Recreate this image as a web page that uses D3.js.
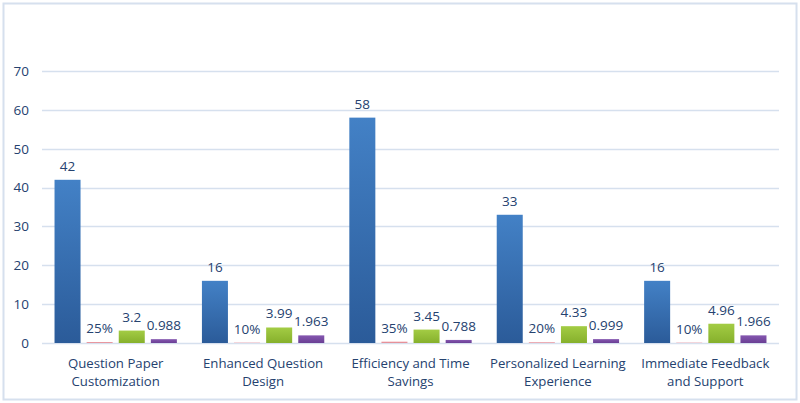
<!DOCTYPE html>
<html><head><meta charset="utf-8">
<script src="https://cdn.jsdelivr.net/npm/d3@7"></script>
<style>body{margin:0;background:#fff}svg{display:block}</style>
</head><body><svg id="c" width="800" height="403"></svg>
<script>
const categories = [["Question Paper","Customization"],["Enhanced Question","Design"],["Efficiency and Time","Savings"],["Personalized Learning","Experience"],["Immediate Feedback","and Support"]];
const countValues = [42,16,58,33,16];
const percentValues = [0.25,0.10,0.35,0.20,0.10];
const percentLabels = ["25%","10%","35%","20%","10%"];
const meanValues = [3.2,3.99,3.45,4.33,4.96];
const sdValues = [0.988,1.963,0.788,0.999,1.966];
const yTicks = [0,10,20,30,40,50,60,70];

const series = [
  {key:"count", values:countValues, labels:countValues.map(String), top:"#4381c6", bot:"#2b5b99"},
  {key:"pct", values:percentValues, labels:percentLabels, top:"#f0a0a8", bot:"#e08890"},
  {key:"mean", values:meanValues, labels:meanValues.map(String), top:"#a3cc44", bot:"#86b02c"},
  {key:"sd", values:sdValues, labels:sdValues.map(String), top:"#8557b0", bot:"#6a3f94"}
];

const svg = d3.select("#c");
const W=800,H=403;
const m={left:42,right:21,top:71,bottom:60};
const font="'Open Sans', 'Liberation Sans', Arial, sans-serif";
const fs=13.2;
const textColor="#25426f";

svg.append("rect").attr("x",3.5).attr("y",3.5).attr("width",W-7).attr("height",H-7)
  .attr("fill","#fff").attr("stroke","#d6e0ee").attr("stroke-width",2);

const y=d3.scaleLinear().domain([0,70]).range([H-m.bottom,m.top]);
const x0=d3.scaleBand().domain(d3.range(categories.length)).range([m.left,W-m.right]).paddingInner(0.17).paddingOuter(0.085);
const x1=d3.scaleBand().domain(series.map(s=>s.key)).range([0,x0.bandwidth()]).paddingInner(0.19);

const defs=svg.append("defs");
series.forEach(s=>{
  const g=defs.append("linearGradient").attr("id","g_"+s.key).attr("x1",0).attr("x2",0).attr("y1",0).attr("y2",1);
  g.append("stop").attr("offset","0%").attr("stop-color",s.top);
  g.append("stop").attr("offset","100%").attr("stop-color",s.bot);
});

// gridlines
svg.append("g").selectAll("line").data(yTicks).join("line")
  .attr("x1",m.left).attr("x2",W-m.right)
  .attr("y1",d=>Math.round(y(d))+0.5).attr("y2",d=>Math.round(y(d))+0.5)
  .attr("stroke","#d6e0ee").attr("stroke-width",1.5);

// y axis labels
const yAxis=svg.append("g").attr("transform",`translate(${m.left},0)`)
  .call(d3.axisLeft(y).tickValues(yTicks).tickSize(0).tickPadding(13));
yAxis.select(".domain").remove();
yAxis.selectAll("text").attr("font-family",font).attr("font-size",13.5).attr("fill",textColor);

// bars
const groups=svg.append("g").selectAll("g").data(categories).join("g")
  .attr("transform",(d,i)=>`translate(${x0(i)},0)`);
series.forEach(s=>{
  groups.append("rect")
    .attr("x",x1(s.key)).attr("width",x1.bandwidth())
    .attr("y",(d,i)=>y(s.values[i])).attr("height",(d,i)=>y(0)-y(s.values[i]))
    .attr("fill",`url(#g_${s.key})`);
  groups.append("text")
    .attr("x",x1(s.key)+x1.bandwidth()/2)
    .attr("y",(d,i)=>y(s.values[i])-9)
    .attr("text-anchor","middle")
    .attr("font-family",font).attr("font-size",13.5).attr("fill",textColor)
    .text((d,i)=>s.labels[i]);
});

// category labels
const xAxis=svg.append("g");
categories.forEach((lines,i)=>{
  const t=xAxis.append("text").attr("x",x0(i)+x0.bandwidth()/2).attr("y",H-m.bottom+25)
    .attr("text-anchor","middle").attr("font-family",font).attr("font-size",fs).attr("fill",textColor);
  lines.forEach((l,j)=>t.append("tspan").attr("x",x0(i)+x0.bandwidth()/2).attr("dy",j?18:0).text(l));
});
</script></body></html>
